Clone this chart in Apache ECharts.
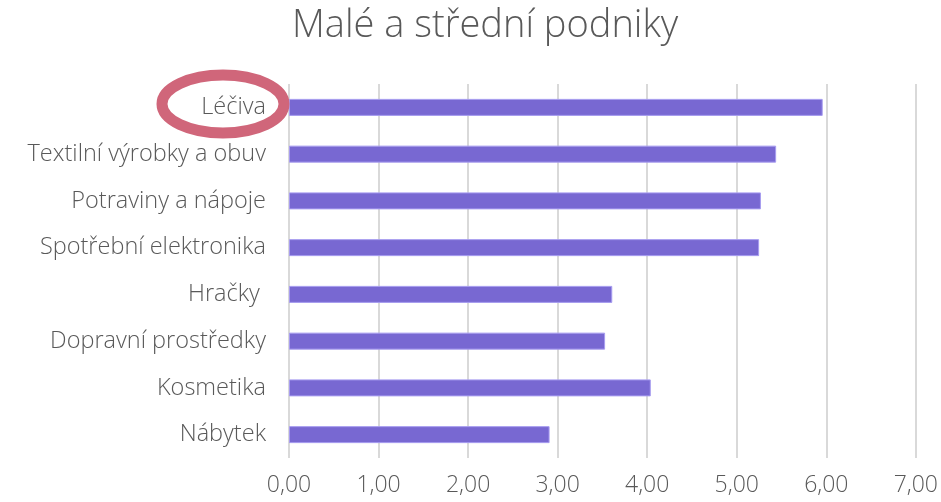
<!DOCTYPE html>
<html><head><meta charset="utf-8">
<script src="https://cdn.jsdelivr.net/npm/echarts@6/dist/echarts.min.js"></script>
<style>html,body{margin:0;padding:0;background:#fff}#c{width:941px;height:502px}</style>
</head><body><div id="c"></div>
<script>
const categories = ["Léčiva","Textilní výrobky a obuv","Potraviny a nápoje","Spotřební elektronika","Hračky ","Dopravní prostředky","Kosmetika","Nábytek"];
const values = [5.96, 5.44, 5.27, 5.25, 3.61, 3.53, 4.04, 2.91];
const titleText = "Malé a střední podniky";
const FONT = "Open Sans";
const chart = echarts.init(document.getElementById('c'));
chart.setOption({
  animation:false,
  title:{text:titleText,left:287,top:2,textStyle:{fontFamily:FONT,fontWeight:300,fontSize:38,color:'#595959'}},
  grid:{left:289,right:25,top:84,bottom:44,containLabel:false},
  xAxis:{type:'value',min:0,max:7,interval:1,
    axisLine:{show:false},axisTick:{show:false},
    splitLine:{lineStyle:{color:'#d9d9d9',width:2}},
    axisLabel:{margin:16,fontFamily:FONT,fontWeight:300,fontSize:23,color:'#595959',formatter:v=>v.toFixed(2).replace('.',',')}},
  yAxis:{type:'category',inverse:true,data:categories,
    axisLine:{show:false},axisTick:{show:false},
    axisLabel:{margin:23,fontFamily:FONT,fontWeight:300,fontSize:23.5,color:'#595959'}},
  series:[{type:'bar',data:values,barWidth:17,itemStyle:{color:'#7868D2',borderColor:'#a79cf0',borderWidth:1}}],
  graphic:[{type:'ellipse',shape:{cx:223,cy:104,rx:61,ry:29},style:{fill:'none',stroke:'#D0667A',lineWidth:11},z:100}]
});
</script></body></html>
